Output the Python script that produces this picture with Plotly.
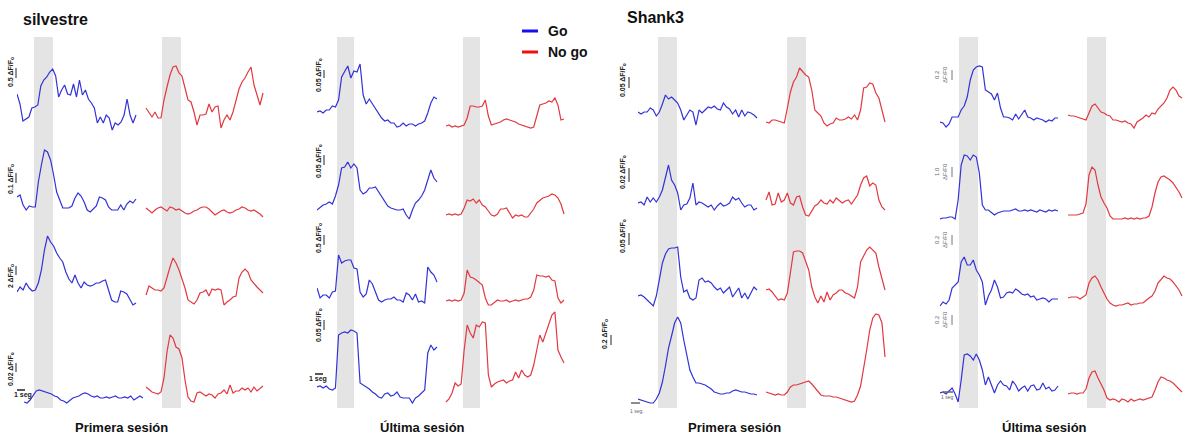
import numpy as np
import plotly.graph_objects as go

W, H = 1184, 436
FONT = "Liberation Sans, Arial, sans-serif"
BLUE = "#3232d8"
RED = "#e2383f"
GRAY = "#e4e4e4"

# ---------------- data (relative dF/F, one list per row) ----------------
silvestre_primera_go = [
    [41,31,14,16,18,27,28,30,49,55,58,63,66,59,38,45,50,41,40,51,38,55,40,45,36,32,27,12,18,12,20,17,5,12,10,13,20,36,20,12,20],
    [25,27,17,12,16,15,15,40,57,72,70,62,47,30,22,14,14,14,16,24,29,26,20,12,10,13,16,25,24,22,15,12,12,12,17,12,18,21,19,23],
    [17,22,19,26,21,18,19,26,39,59,73,67,63,56,51,47,37,30,26,34,26,21,27,24,23,24,26,26,28,29,19,9,7,7,18,17,15,9,4,6],
    [8,7,10,14,19,20,19,18,17,16,14,13,10,9,7,10,12,13,14,16,17,16,14,13,14,12,12,13,12,13,14,12,12,13,12,14,10,12,14,12],
]
silvestre_primera_nogo = [
    [27,22,18,23,17,17,35,48,60,68,69,62,59,47,35,33,23,10,20,20,21,31,23,28,29,7,15,20,15,23,35,46,53,57,63,68,50,39,30,42],
    [14,11,9,12,14,15,13,11,15,14,12,13,11,9,8,9,11,12,14,15,15,13,10,7,9,11,12,10,9,10,12,13,15,14,12,11,12,10,8,5],
    [14,23,21,19,19,18,21,32,42,51,46,39,31,21,9,7,5,9,16,17,19,13,20,19,20,19,4,7,9,12,13,31,37,40,37,29,25,22,19,16],
    [23,20,18,17,16,18,32,58,75,72,63,61,52,30,13,9,8,17,18,16,14,16,15,12,16,17,20,16,25,17,19,19,22,20,22,18,23,19,22,24],
]
silvestre_ultima_go = [
    [23,24,22,25,25,29,28,35,58,63,69,57,64,63,71,40,31,36,31,27,21,17,14,15,12,12,8,9,12,9,11,11,9,11,12,14,22,32,38,36],
    [12,15,17,18,20,18,26,37,54,55,60,54,58,54,32,28,30,34,34,35,30,25,21,16,14,13,12,12,13,7,3,12,19,22,26,32,42,52,44,40],
    [21,11,14,14,11,17,18,54,46,48,49,49,41,40,17,12,15,29,25,16,9,7,9,10,10,12,9,9,7,16,14,9,15,7,8,6,42,37,34,27],
    [23,24,22,24,21,20,22,75,77,78,77,80,79,77,27,25,23,21,18,16,13,12,16,17,14,15,18,13,12,12,12,7,12,14,17,20,57,65,60,63],
]
silvestre_ultima_nogo = [
    [9,10,8,9,8,9,10,17,29,29,28,28,29,35,19,10,11,12,13,15,16,15,14,13,11,10,9,8,7,8,20,30,31,32,34,33,37,30,15,16],
    [7,8,7,8,7,8,14,22,21,23,19,22,17,15,11,7,6,8,13,13,14,9,4,7,6,7,5,5,9,13,19,22,24,25,26,28,27,24,18,8],
    [8,9,8,9,8,9,16,39,32,31,29,26,24,11,4,4,7,9,8,8,9,7,8,9,8,9,10,10,12,19,34,33,33,32,33,29,28,11,6,9],
    [8,11,17,27,24,26,60,85,77,72,85,83,88,87,35,23,26,28,29,30,27,29,30,38,32,40,35,33,35,45,60,75,68,77,85,95,98,60,53,47],
]
shank3_primera_go = [
    [23,21,23,23,27,25,19,23,31,40,36,38,35,32,25,15,20,25,23,10,25,22,25,28,27,29,26,25,32,28,26,21,25,18,25,19,23,22,20,17],
    [19,20,17,25,20,24,20,25,32,46,57,42,37,29,12,17,18,24,39,17,20,19,17,15,17,12,16,19,16,17,19,25,22,24,19,15,17,17,12,14],
    [13,14,12,9,5,3,13,29,46,55,60,61,61,62,32,17,19,11,9,11,29,31,27,28,26,22,19,21,16,19,22,12,17,21,11,16,10,16,22,19],
    [11,10,9,8,7,7,11,17,28,44,62,74,87,93,87,70,55,40,33,27,27,26,25,23,21,18,17,16,16,17,17,19,20,19,18,18,17,16,16,15],
]
shank3_primera_nogo = [
    [13,12,15,15,14,13,12,27,43,53,58,67,63,60,58,45,25,22,19,12,9,11,12,17,15,15,16,18,16,20,15,25,47,48,52,51,42,37,25,13],
    [22,30,17,18,29,20,22,29,19,17,25,26,15,7,6,11,16,18,22,19,18,22,19,24,21,19,21,22,18,22,27,37,44,46,36,39,37,22,15,12],
    [19,20,17,13,9,10,9,16,39,57,58,58,56,47,39,22,12,6,13,7,17,9,14,16,19,19,16,15,13,11,22,47,53,59,62,59,56,42,29,19],
    [18,17,16,15,16,15,15,18,23,25,25,26,27,28,29,26,22,18,15,14,14,14,13,13,12,11,10,9,8,9,15,24,40,60,80,92,96,95,87,53],
]
shank3_ultima_go = [
    [13,12,8,11,18,18,18,25,29,38,55,65,68,69,68,45,43,41,35,42,27,18,18,17,15,21,16,20,25,18,17,15,17,16,15,13,15,14,17,17],
    [3,4,4,5,5,3,22,57,67,66,62,67,65,49,17,12,12,9,7,9,10,11,11,11,12,13,11,11,12,11,12,11,10,12,11,10,12,11,12,11],
    [3,7,5,9,21,24,27,47,52,44,44,49,39,34,27,4,13,19,29,22,11,12,16,17,16,20,18,15,14,15,12,13,9,10,11,10,7,10,10,10],
    [17,18,16,19,22,16,8,30,55,56,54,50,56,50,40,25,33,25,17,25,29,25,24,20,29,25,19,22,24,19,24,25,20,21,27,21,23,19,20,24],
]
shank3_ultima_nogo = [
    [20,19,19,18,17,16,15,22,29,31,27,23,22,20,19,15,15,14,13,14,12,11,7,13,15,17,20,18,22,21,26,29,32,37,45,48,45,39,37],
    [7,7,7,7,8,9,18,47,55,52,37,25,19,14,6,3,3,3,3,4,3,4,3,4,3,4,4,6,15,29,40,45,46,44,42,39,35,30,24],
    [11,12,12,12,10,12,14,26,31,33,29,22,16,10,6,4,3,4,4,5,6,4,5,5,6,6,9,11,13,18,26,30,33,31,30,27,23,19,13],
    [16,17,17,16,17,17,21,32,38,39,32,26,20,12,10,11,10,8,11,10,8,11,9,10,11,10,11,12,13,20,28,33,32,30,29,27,24,21,18],
]

# timing (s) of each recording relative to the Go trace onset
go_start = [[0, 0, 0, 0.7], [0, 0, 0, 0], [0, 0, 0, 0], [0, 0, 0, 0]]
go_dur = [11.9, 12.0, 11.9, 11.8]
nogo_start = [12.9, 12.9, 12.8, 12.8]
nogo_dur = [11.7, 11.8, 11.9, 11.4]
stim_go = [(1.7, 3.6), (2.0, 3.7), (2.0, 3.9), (1.9, 3.8)]
stim_nogo = [(14.5, 16.4), (14.6, 16.3), (14.9, 16.8), (14.7, 16.6)]

scale_labels = [
    ["0.5 ΔF/F<sub>o</sub>", "0.1 ΔF/F<sub>o</sub>", "2 ΔF/F<sub>o</sub>", "0.02 ΔF/F<sub>o</sub>"],
    ["0.05 ΔF/F<sub>o</sub>", "0.05 ΔF/F<sub>o</sub>", "0.5 ΔF/F<sub>o</sub>", "0.05 ΔF/F<sub>o</sub>"],
    ["0.05 ΔF/F<sub>o</sub>", "0.02 ΔF/F<sub>o</sub>", "0.05 ΔF/F<sub>o</sub>", "0.2 ΔF/F<sub>o</sub>"],
    ["0.2<br>ΔF/F0", "1.0<br>ΔF/F0", "0.2<br>ΔF/F0", "0.2<br>ΔF/F0"],
]
group_titles = ["silvestre", "Shank3"]
session_labels = ["Primera sesión", "Última sesión", "Primera sesión", "Última sesión"]
legend_labels = ["Go", "No go"]

panels = [
    (silvestre_primera_go, silvestre_primera_nogo),
    (silvestre_ultima_go, silvestre_ultima_nogo),
    (shank3_primera_go, shank3_primera_nogo),
    (shank3_ultima_go, shank3_ultima_nogo),
]

# ---------------- layout geometry (pixels) ----------------
panel_left = [17, 317, 638, 940]
PX_PER_S = 10.0
row_top = [40, 135, 222, 309]
row_bot = [135, 222, 309, 410]

def fx(px):
    return px / W

def fy(py):
    return 1 - py / H

fig = go.Figure()
layout = {}
shapes = []
annotations = []

for p in range(4):
    xname = "x" if p == 0 else f"x{p+1}"
    left = panel_left[p]
    right = min(W, left + 250)
    layout["xaxis" if p == 0 else f"xaxis{p+1}"] = dict(
        domain=[fx(left), fx(right)], range=[0, (right - left) / PX_PER_S],
        visible=False, anchor=f"y{p*4+1}" if p*4+1 > 1 else "y", fixedrange=True)
    gvals, nvals = panels[p]
    for r in range(4):
        yi = p * 4 + r + 1
        yname = "y" if yi == 1 else f"y{yi}"
        layout["yaxis" if yi == 1 else f"yaxis{yi}"] = dict(
            domain=[fy(row_bot[r]), fy(row_top[r])], range=[0, row_bot[r] - row_top[r]],
            visible=False, anchor=xname, fixedrange=True)
        g = gvals[r]
        t0 = go_start[p][r]
        fig.add_trace(go.Scatter(x=np.linspace(t0, t0 + go_dur[p], len(g)), y=g, mode="lines",
                                 line=dict(color=BLUE, width=1.2), xaxis=xname, yaxis=yname,
                                 showlegend=False, hoverinfo="skip"))
        n = nvals[r]
        t1 = nogo_start[p]
        fig.add_trace(go.Scatter(x=np.linspace(t1, t1 + nogo_dur[p], len(n)), y=n, mode="lines",
                                 line=dict(color=RED, width=1.2), xaxis=xname, yaxis=yname,
                                 showlegend=False, hoverinfo="skip"))
    for (a, b) in (stim_go[p], stim_nogo[p]):
        shapes.append(dict(type="rect", xref=xname, yref="paper", x0=a, x1=b,
                           y0=fy(408), y1=fy(37), fillcolor=GRAY, line_width=0, layer="below"))

# scale bar labels (text centre x, bar x, text centre y per row, bar y-range per row)
scale_geo = [
    dict(tx=[11]*4, bx=16, ty=[72, 179, 276, 369], by=[(68, 78), (173, 183), (266, 275), (363, 372)]),
    dict(tx=[319]*4, bx=324, ty=[75, 161, 238, 325], by=[(70, 78), (155, 165), (235, 245), (320, 330)]),
    dict(tx=[623, 623, 623, 605], bx=[629, 629, 629, 611], ty=[80, 172, 236, 334], by=[(77, 88), (168, 182), (233, 245), (335, 345)]),
    dict(tx=[941]*4, bx=952, ty=[75, 172, 240, 320], by=[(70, 80), (167, 177), (235, 245), (315, 325)]),
]
for p in range(4):
    g = scale_geo[p]
    for r in range(4):
        bx = g["bx"][r] if isinstance(g["bx"], list) else g["bx"]
        if p < 3:
            annotations.append(dict(x=fx(g["tx"][r]), y=fy(g["ty"][r]), xref="paper", yref="paper",
                                    text="<b>" + scale_labels[p][r] + "</b>", textangle=-90, showarrow=False,
                                    xanchor="center", yanchor="middle",
                                    font=dict(family=FONT, size=7, color="#222")))
            shapes.append(dict(type="line", xref="paper", yref="paper", x0=fx(bx), x1=fx(bx),
                               y0=fy(g["by"][r][0]), y1=fy(g["by"][r][1]), line=dict(color="#222", width=1)))
        else:
            annotations.append(dict(x=fx(g["tx"][r]), y=fy(g["ty"][r]), xref="paper", yref="paper",
                                    text=scale_labels[p][r], textangle=-90, showarrow=False,
                                    xanchor="center", yanchor="middle",
                                    font=dict(family=FONT, size=6, color="#666")))
            shapes.append(dict(type="line", xref="paper", yref="paper", x0=fx(bx), x1=fx(bx),
                               y0=fy(g["by"][r][0]), y1=fy(g["by"][r][1]), line=dict(color="#777", width=1)))

# time scale bars
time_bars = [((17, 25), 390, 23, 395, "<b>1 seg</b>", 7, "#222"),
             ((315, 323), 374, 318, 379, "<b>1 seg</b>", 7, "#222"),
             ((631, 640), 403, 637, 411, "1 seg.", 5, "#666"),
             ((943, 953), 392, 947, 397, "1 seg", 5, "#666")]
for (x0, x1), yb, tx, ty, txt, sz, col in time_bars:
    shapes.append(dict(type="line", xref="paper", yref="paper", x0=fx(x0), x1=fx(x1),
                       y0=fy(yb), y1=fy(yb), line=dict(color=col, width=1.5)))
    annotations.append(dict(x=fx(tx), y=fy(ty), xref="paper", yref="paper", text=txt, showarrow=False,
                            xanchor="center", yanchor="middle", font=dict(family=FONT, size=sz, color=col)))

# titles
annotations.append(dict(x=fx(21), y=fy(19), xref="paper", yref="paper", text="<b>" + group_titles[0] + "</b>",
                        showarrow=False, xanchor="left", yanchor="middle", font=dict(family=FONT, size=16, color="#111")))
annotations.append(dict(x=fx(625), y=fy(17), xref="paper", yref="paper", text="<b>" + group_titles[1] + "</b>",
                        showarrow=False, xanchor="left", yanchor="middle", font=dict(family=FONT, size=16, color="#111")))
for cx, lab in zip([121, 422, 735, 1044], session_labels):
    annotations.append(dict(x=fx(cx), y=fy(427), xref="paper", yref="paper", text="<b>" + lab + "</b>",
                            showarrow=False, xanchor="center", yanchor="middle",
                            font=dict(family=FONT, size=13, color="#111")))

# legend
for yy, col, lab in [(31, "#1010f0", legend_labels[0]), (52, "#f01010", legend_labels[1])]:
    shapes.append(dict(type="line", xref="paper", yref="paper", x0=fx(522), x1=fx(538),
                       y0=fy(yy), y1=fy(yy), line=dict(color=col, width=3)))
    annotations.append(dict(x=fx(546), y=fy(yy), xref="paper", yref="paper", text="<b>" + lab + "</b>",
                            showarrow=False, xanchor="left", yanchor="middle",
                            font=dict(family=FONT, size=14, color="#111")))

fig.update_layout(**layout)
fig.update_layout(width=W, height=H, autosize=False, margin=dict(l=0, r=0, t=0, b=0, pad=0),
                  paper_bgcolor="white", plot_bgcolor="white", showlegend=False,
                  shapes=shapes, annotations=annotations)
fig.write_html("out.html", config={"displayModeBar": False})
